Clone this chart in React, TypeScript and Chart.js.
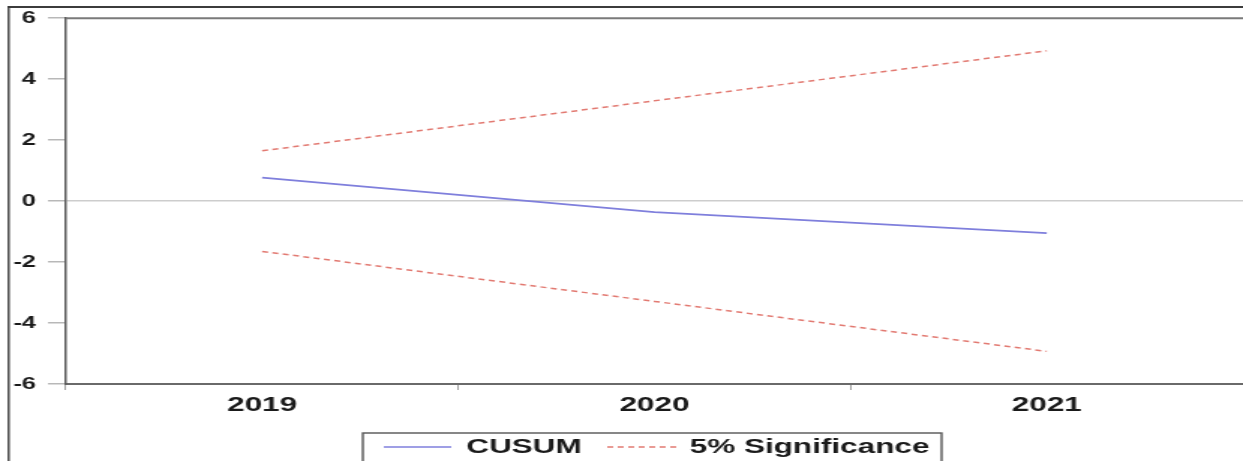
import React, { useEffect, useRef } from "react";
import { Chart, registerables } from "chart.js";

Chart.register(...registerables);

// ---- data ----
const categories = ["2019", "2020", "2021"];
const cusum = [0.77, -0.36, -1.05];
const upper5 = [1.65, 3.29, 4.93];
const lower5 = [-1.65, -3.29, -4.93];
const yMin = -6;
const yMax = 6;
const yStep = 2;
const seriesLabels = ["CUSUM", "5% Significance"];

// ---- layout (internal canvas is narrower and stretched horizontally, like the reference) ----
const W = 829;
const H = 461;
const CSS_W = 1243;
const FONT = "'Liberation Sans', Arial, sans-serif";
const BLUE = "#7f7fdc";
const RED = "#e27a72";

const framePlugin = {
  id: "frameAndLegend",
  afterDraw(chart: any) {
    const { ctx, chartArea: a } = chart;
    ctx.save();
    // outer frame (top and left)
    ctx.strokeStyle = "#3c3c3c";
    ctx.lineWidth = 2;
    ctx.beginPath();
    ctx.moveTo(5, 7);
    ctx.lineTo(W, 7);
    ctx.stroke();
    ctx.lineWidth = 1.4;
    ctx.beginPath();
    ctx.moveTo(5.8, 6);
    ctx.lineTo(5.8, H);
    ctx.stroke();
    // plot top border
    ctx.strokeStyle = "#7a7a7a";
    ctx.lineWidth = 2;
    ctx.beginPath();
    ctx.moveTo(a.left, a.top);
    ctx.lineTo(a.right, a.top);
    ctx.stroke();

    // legend
    const boxL = 242;
    const boxR = 628;
    const boxT = 433;
    const cy = 447;
    ctx.strokeStyle = "#555";
    ctx.lineWidth = 1.4;
    ctx.strokeRect(boxL, boxT, boxR - boxL, H - boxT + 10);

    ctx.font = `bold 21px ${FONT}`;
    ctx.textBaseline = "middle";
    ctx.textAlign = "left";
    ctx.fillStyle = "#1a1a1a";

    let x = boxL + 14;
    // CUSUM
    ctx.strokeStyle = BLUE;
    ctx.lineWidth = 1.6;
    ctx.setLineDash([]);
    ctx.beginPath();
    ctx.moveTo(x, cy);
    ctx.lineTo(x + 45, cy);
    ctx.stroke();
    x += 55;
    ctx.fillText(seriesLabels[0], x, cy);
    x += ctx.measureText(seriesLabels[0]).width + 17;
    // 5% Significance
    ctx.strokeStyle = RED;
    ctx.setLineDash([4, 3]);
    ctx.beginPath();
    ctx.moveTo(x, cy);
    ctx.lineTo(x + 47, cy);
    ctx.stroke();
    ctx.setLineDash([]);
    x += 55;
    ctx.fillText(seriesLabels[1], x, cy);
    ctx.restore();
  },
};

export default function App() {
  const ref = useRef<HTMLCanvasElement | null>(null);

  useEffect(() => {
    if (!ref.current) return;
    const chart = new Chart(ref.current, {
      type: "line",
      data: {
        labels: categories,
        datasets: [
          {
            label: seriesLabels[0],
            data: cusum,
            borderColor: BLUE,
            borderWidth: 1.8,
            pointRadius: 0,
            tension: 0,
          },
          {
            label: seriesLabels[1],
            data: upper5,
            borderColor: RED,
            borderWidth: 1.5,
            borderDash: [4, 3],
            pointRadius: 0,
            tension: 0,
          },
          {
            label: seriesLabels[1],
            data: lower5,
            borderColor: RED,
            borderWidth: 1.5,
            borderDash: [4, 3],
            pointRadius: 0,
            tension: 0,
          },
        ],
      },
      options: {
        responsive: false,
        animation: false,
        events: [],
        layout: { padding: { top: 18, left: 0, right: 0, bottom: 0 } },
        plugins: {
          legend: { display: false },
          tooltip: { enabled: false },
          title: { display: false },
        },
        scales: {
          x: {
            type: "category",
            offset: true,
            afterFit: (s: any) => {
              s.height = 77;
            },
            grid: {
              offset: true,
              drawOnChartArea: false,
              drawTicks: true,
              tickLength: 6,
              tickColor: "#a0a0a0",
            },
            border: { display: true, color: "#6a6a6a", width: 2 },
            ticks: {
              color: "#1a1a1a",
              padding: 3,
              maxRotation: 0,
              font: { family: FONT, size: 21, weight: "bold" },
            },
          },
          y: {
            min: yMin,
            max: yMax,
            afterFit: (s: any) => {
              s.width = 44;
            },
            grid: {
              drawOnChartArea: true,
              drawTicks: true,
              tickLength: 12,
              tickColor: "#b8b8b8",
              color: (c: any) =>
                c.tick && c.tick.value === 0 ? "#cdcdcd" : "rgba(0,0,0,0)",
              lineWidth: 1.5,
            },
            border: { display: true, color: "#5a5a5a", width: 1.5 },
            ticks: {
              stepSize: yStep,
              color: "#1a1a1a",
              padding: 8,
              font: { family: FONT, size: 17, weight: "bold" },
            },
          },
        },
      },
      plugins: [framePlugin],
    } as any);
    return () => chart.destroy();
  }, []);

  return (
    <canvas
      ref={ref}
      width={W}
      height={H}
      style={{
        position: "absolute",
        left: 0,
        top: 0,
        width: `${CSS_W}px`,
        height: `${H}px`,
        display: "block",
        background: "#fff",
      }}
    />
  );
}
